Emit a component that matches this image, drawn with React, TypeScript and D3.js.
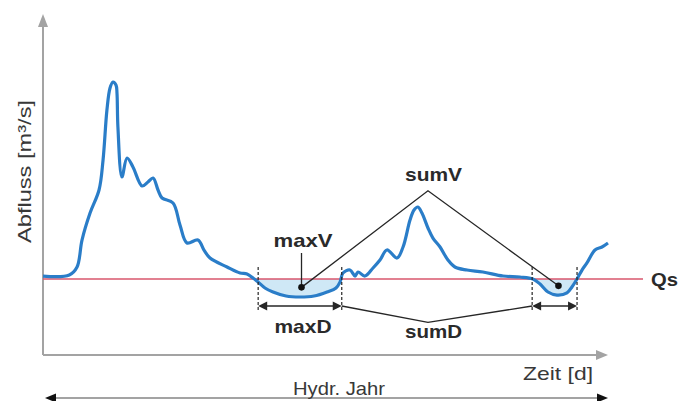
import React from "react";
import * as d3 from "d3";

// ---- data (day of hydrological year, discharge in m³/s) ----
const days = [0, 17, 22, 25.2, 30.4, 36.2, 38.8, 41.3, 43.3, 45.2, 47.2, 47.8, 48.4, 51.0, 54.3, 58.1, 64.0, 67.8, 71.1, 74.3, 76.9, 84.0, 88.5, 93.0, 100.1, 104, 107.9, 118.9, 127.3, 131.8, 135.7, 138.9, 143.4, 148.6, 157.0, 166.0, 175.1, 183.5, 189.3, 191.9, 193.8, 198.3, 201.6, 203.5, 208.0, 213.2, 217.7, 222.2, 228.7, 232.6, 237.1, 239.7, 242.2, 244.8, 248.7, 251.9, 256.5, 261.6, 266.1, 273.9, 284.2, 297.2, 308.1, 316.5, 321.1, 326.2, 332.0, 338.5, 341.7, 345.0, 348.2, 351.4, 356.6, 361.1, 365];
const flow = [10.39, 10.53, 11.58, 15.13, 18.68, 21.71, 25.66, 32.24, 35.13, 35.92, 35.5, 34.47, 30.0, 23.42, 25.92, 24.74, 22.24, 22.76, 23.29, 21.71, 20.66, 20.0, 17.1, 14.74, 15.13, 13.8, 12.76, 11.58, 10.79, 10.66, 10.13, 9.61, 8.82, 8.29, 7.76, 7.63, 7.76, 8.29, 8.82, 9.61, 10.79, 11.18, 10.39, 10.92, 10.39, 11.45, 12.5, 13.82, 12.76, 14.21, 17.76, 19.08, 19.47, 18.68, 16.71, 15.39, 14.21, 12.5, 11.58, 11.18, 10.92, 10.39, 10.26, 10.0, 9.34, 8.29, 7.89, 8.16, 8.95, 10.0, 11.18, 12.11, 13.82, 14.21, 14.74];
const Qs = 10;
const deficitStart = [139, 316];
const deficitEnd = [193, 345];
const deficitDotDay = [167, 333];
const deficitDotFlow = [8.9, 9.1];
const sumApex = [248.7, 21.6];
const sumDApex = [248.7, 4.3];

const W = 689;
const H = 401;

export default function App() {
  const x = d3.scaleLinear().domain([0, 365]).range([43, 608]);
  const y = d3.scaleLinear().domain([0, 45]).range([355, 13]);
  const pts: [number, number][] = days.map((d, i) => [d, flow[i]]);

  const line = d3
    .line<[number, number]>()
    .x((d) => x(d[0]))
    .y((d) => y(d[1]))
    .curve(d3.curveCatmullRom.alpha(0.5));

  const area = d3
    .area<[number, number]>()
    .x((d) => x(d[0]))
    .y0(y(Qs))
    .y1((d) => y(Math.min(d[1], Qs)))
    .curve(d3.curveCatmullRom.alpha(0.5));

  const yQ = y(Qs);
  const axisCol = "#a3a3a3";
  const ink = "#262626";
  const font = "'Liberation Sans', Arial, sans-serif";

  const dashTop = yQ - 12;
  const dashBot = yQ + 31;
  const arrowY = yQ + 27;

  const dArrow = (x1: number, x2: number, yy: number, key: string) => (
    <g key={key}>
      <line x1={x1 + 6} x2={x2 - 6} y1={yy} y2={yy} stroke={ink} strokeWidth={1.5} />
      <path d={`M${x1},${yy} L${x1 + 9},${yy - 4.5} L${x1 + 9},${yy + 4.5} Z`} fill={ink} />
      <path d={`M${x2},${yy} L${x2 - 9},${yy - 4.5} L${x2 - 9},${yy + 4.5} Z`} fill={ink} />
    </g>
  );

  return (
    <svg width={W} height={H} style={{ position: "absolute", left: 0, top: 0 }}>
      <defs>
        {deficitStart.map((s, i) => (
          <clipPath id={`clip${i}`} key={i}>
            <rect x={x(s)} y={0} width={x(deficitEnd[i]) - x(s)} height={H} />
          </clipPath>
        ))}
      </defs>
      <rect width={W} height={H} fill="#fff" />

      {/* axes */}
      <line x1={x(0)} x2={x(0)} y1={y(0)} y2={26} stroke={axisCol} strokeWidth={2} />
      <path d={`M${x(0)},14 L${x(0) - 5},27 L${x(0) + 5},27 Z`} fill={axisCol} />
      <line x1={x(0)} x2={597} y1={y(0)} y2={y(0)} stroke={axisCol} strokeWidth={2} />
      <path d={`M${x(365)},${y(0)} L${x(365) - 12},${y(0) - 5} L${x(365) - 12},${y(0) + 5} Z`} fill={axisCol} />

      {/* hydrological year arrow */}
      <line x1={x(0) + 8} x2={x(365) - 8} y1={398} y2={398} stroke={axisCol} strokeWidth={2} />
      <path d={`M${x(0) + 2},398 L${x(0) + 13},393.5 L${x(0) + 13},402.5 Z`} fill="#111" />
      <path d={`M${x(365)},398 L${x(365) - 11},393.5 L${x(365) - 11},402.5 Z`} fill="#111" />

      {/* deficit fills */}
      {deficitStart.map((s, i) => (
        <path key={i} d={area(pts) || ""} fill="#cfe8f6" clipPath={`url(#clip${i})`} />
      ))}

      {/* threshold */}
      <line x1={x(0)} x2={643} y1={yQ} y2={yQ} stroke="#d9566c" strokeWidth={1.6} />

      {/* hydrograph */}
      <path d={line(pts) || ""} fill="none" stroke="#2a7dc8" strokeWidth={3.2} strokeLinejoin="round" />

      {/* dashed event bounds */}
      {deficitStart.map((s, i) =>
        [s, deficitEnd[i]].map((d, j) => (
          <line key={`${i}-${j}`} x1={x(d)} x2={x(d)} y1={dashTop} y2={dashBot} stroke={ink} strokeWidth={1.2} strokeDasharray="3,2" />
        ))
      )}
      {deficitStart.map((s, i) => dArrow(x(s), x(deficitEnd[i]), arrowY, `a${i}`))}

      {/* sumV / sumD brackets */}
      <polyline
        points={`${x(deficitDotDay[0])},${y(deficitDotFlow[0])} ${x(sumApex[0])},${y(sumApex[1])} ${x(deficitDotDay[1])},${y(deficitDotFlow[1])}`}
        fill="none" stroke={ink} strokeWidth={1.3}
      />
      <polyline
        points={`${x(deficitEnd[0])},${arrowY} ${x(sumDApex[0])},${y(sumDApex[1])} ${x(deficitStart[1])},${arrowY}`}
        fill="none" stroke={ink} strokeWidth={1.3}
      />
      {/* maxV leader */}
      <line x1={x(deficitDotDay[0])} x2={x(deficitDotDay[0])} y1={253} y2={y(deficitDotFlow[0])} stroke={ink} strokeWidth={1.3} />
      {deficitDotDay.map((d, i) => (
        <circle key={i} cx={x(d)} cy={y(deficitDotFlow[i])} r={3.3} fill="#111" />
      ))}

      {/* labels */}
      <g fontFamily={font} fontWeight="bold" fontSize={19} fill="#2a2a2a">
        <text x={303} y={247} textAnchor="middle" textLength={59} lengthAdjust="spacingAndGlyphs">maxV</text>
        <text x={303} y={333} textAnchor="middle" textLength={57} lengthAdjust="spacingAndGlyphs">maxD</text>
        <text x={433.5} y={181} textAnchor="middle" textLength={57} lengthAdjust="spacingAndGlyphs">sumV</text>
        <text x={433.5} y={338} textAnchor="middle" textLength={57} lengthAdjust="spacingAndGlyphs">sumD</text>
        <text x={651} y={286} textLength={27} lengthAdjust="spacingAndGlyphs">Qs</text>
      </g>
      <g fontFamily={font} fontSize={19} fill="#383838">
        <text x={523} y={380} textLength={70} lengthAdjust="spacingAndGlyphs">Zeit [d]</text>
        <text x={293} y={395} textLength={92} lengthAdjust="spacingAndGlyphs">Hydr. Jahr</text>
        <text transform="translate(31,171.5) rotate(-90)" textAnchor="middle" textLength={143} lengthAdjust="spacingAndGlyphs">Abfluss [m³/s]</text>
      </g>
    </svg>
  );
}
